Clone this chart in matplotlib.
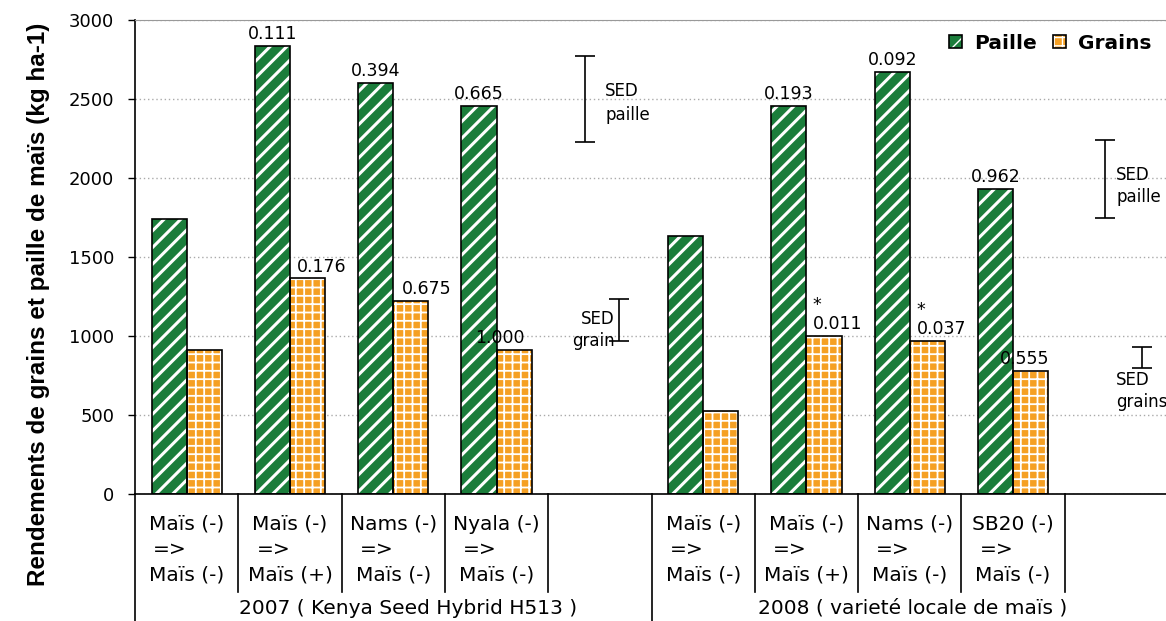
import numpy as np
import matplotlib.pyplot as plt
import matplotlib.transforms as mtransforms
from matplotlib.patches import Patch

# valeurs (kg/ha)
paille = [1740, 2835, 2600, 2455, np.nan, 1635, 2455, 2670, 1930, np.nan]
grains = [910, 1365, 1220, 910, np.nan, 525, 1000, 968, 778, np.nan]
lab_paille = ["", "0.111", "0.394", "0.665", "", "", "0.193", "0.092", "0.962", ""]
lab_grains = ["", "0.176", "0.675", "1.000", "", "", "0.011", "0.037", "0.555", ""]
etoiles = [False, False, False, False, False, False, True, True, False, False]
cat_haut = ["Maïs (-)", "Maïs (-)", "Nams (-)", "Nyala (-)", "",
            "Maïs (-)", "Maïs (-)", "Nams (-)", "SB20 (-)", ""]
cat_bas = ["Maïs (-)", "Maïs (+)", "Maïs (-)", "Maïs (-)", "",
           "Maïs (-)", "Maïs (+)", "Maïs (-)", "Maïs (-)", ""]
groupes = ["2007 ( Kenya Seed Hybrid H513 )", "2008 ( varieté locale de maïs )"]
# SED : centre et longueur des barres
sed_x = [4.36, 4.69, 9.39, 9.75]
sed_centre = [2500, 1100, 1995, 864]
sed_long = [550, 265, 495, 133]

VERT = "#1b7d3b"
ORANGE = "#f5a024"

fig = plt.figure(figsize=(11.66, 6.21), dpi=100)
ax = fig.add_axes([135/1166, 127/621, 1033/1166, 474/621])

x = np.arange(len(paille)) + 0.5
w = 0.34
with plt.rc_context({"hatch.linewidth": 2.2}):
    ax.bar(x - w/2, paille, w, color=VERT, edgecolor="white", hatch="//", linewidth=0, zorder=2)
    h_vert = Patch(facecolor=VERT, edgecolor="white", hatch="//", linewidth=0)
with plt.rc_context({"hatch.linewidth": 1.3}):
    ax.bar(x + w/2, grains, w, color=ORANGE, edgecolor="white", hatch="++", linewidth=0, zorder=2)
    h_orange = Patch(facecolor=ORANGE, edgecolor="white", hatch="++", linewidth=0)
ax.bar(x - w/2, paille, w, fill=False, edgecolor="black", linewidth=1.2, zorder=3)
ax.bar(x + w/2, grains, w, fill=False, edgecolor="black", linewidth=1.2, zorder=3)

dx_g = [0, 10, 11.5, -10, 0, 0, 9.5, 10, -4, 0]
for i in range(len(x)):
    if lab_paille[i]:
        ax.annotate(lab_paille[i], (x[i] - w/2, paille[i]), xytext=(0, 2),
                    textcoords="offset points", ha="center", va="bottom", fontsize=12.5)
    if lab_grains[i]:
        ax.annotate(lab_grains[i], (x[i] + w/2, grains[i]), xytext=(dx_g[i], 2),
                    textcoords="offset points", ha="center", va="bottom", fontsize=12.5)
    if etoiles[i]:
        ax.annotate("*", (x[i] + w/2, grains[i]), xytext=(-5, 16),
                    textcoords="offset points", ha="center", va="bottom", fontsize=12.5)

# barres SED
ax.errorbar(sed_x, sed_centre, yerr=np.array(sed_long)/2, fmt="none",
            ecolor="black", elinewidth=1.2, capsize=7, capthick=1.2, zorder=4)
ax.text(4.55, 2475, "SED\npaille", fontsize=12, va="center", ha="left", linespacing=1.4)
ax.text(4.64, 1040, "SED\ngrain", fontsize=12, va="center", ha="right", linespacing=1.3)
ax.text(9.50, 1950, "SED\npaille", fontsize=12, va="center", ha="left", linespacing=1.3)
ax.text(9.50, 650, "SED\ngrains", fontsize=12, va="center", ha="left", linespacing=1.3)

ax.set_xlim(0, 10)
ax.set_ylim(0, 3000)
ax.set_yticks(np.arange(0, 3001, 500))
ax.tick_params(axis="y", labelsize=13, length=5, width=1, pad=10)
ax.set_xticks([])
ax.yaxis.grid(True, color="#aaaaaa", linestyle=(0, (1, 2)), linewidth=1)
ax.set_axisbelow(True)
ax.spines["right"].set_visible(False)
ax.spines["top"].set_color("#999999")
ax.spines["left"].set_linewidth(1.2)
ax.spines["bottom"].set_linewidth(1.2)

# axe des categories a deux niveaux
trans = mtransforms.blended_transform_factory(ax.transData, ax.transAxes)
court = -(592 - 494) / 474
long_ = -(621 - 494) / 474
for b in [1, 2, 3, 4, 6, 7, 8, 9]:
    ax.plot([b, b], [0, court], color="black", lw=1.2, transform=trans, clip_on=False)
for b in [0, 5]:
    ax.plot([b, b], [0, long_], color="black", lw=1.2, transform=trans, clip_on=False)
for i in range(len(x)):
    if not cat_haut[i]:
        continue
    ax.text(x[i], -(524 - 494) / 474, cat_haut[i], transform=trans,
            ha="center", va="center", fontsize=14.5)
    ax.text(x[i] - 0.16, -(549 - 494) / 474, "=>", transform=trans,
            ha="center", va="center", fontsize=14.5)
    ax.text(x[i], -(575 - 494) / 474, cat_bas[i], transform=trans,
            ha="center", va="center", fontsize=14.5)
for xg, nom in zip([2.64, 7.53], groupes):
    ax.text(xg, -(608 - 494) / 474, nom, transform=trans,
            ha="center", va="center", fontsize=14.5)

fig.text(39/1166, 1 - 304/621, "Rendements de grains et paille de maïs (kg ha-1)",
         rotation=90, ha="center", va="center", fontsize=17.5, fontweight="bold",
         family="Liberation Sans")

h1 = (h_vert, Patch(fill=False, edgecolor="black", linewidth=1.2))
h2 = (h_orange, Patch(fill=False, edgecolor="black", linewidth=1.2))
fig.legend([h1, h2], ["Paille", "Grains"], loc="upper right",
           bbox_to_anchor=(1.003, 0.975), ncol=2, frameon=False,
           handlelength=0.65, handleheight=0.65, handletextpad=0.6, columnspacing=0.8,
           prop={"weight": "bold", "size": 14.5})

fig.savefig("out.png", dpi=100)
